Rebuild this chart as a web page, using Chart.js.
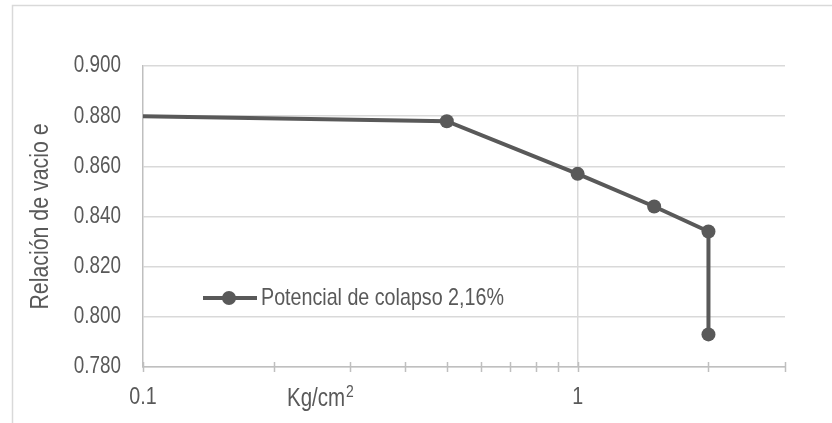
<!DOCTYPE html>
<html>
<head>
<meta charset="utf-8">
<script src="https://cdn.jsdelivr.net/npm/chart.js@4"></script>
<style>
html,body{margin:0;padding:0;background:#fff;}
#wrap{width:832px;height:423px;position:relative;}
</style>
</head>
<body>
<div id="wrap"><canvas id="c" width="832" height="423"></canvas></div>
<script>
const pressures = [0.1, 0.5, 1, 1.5, 2, 2];
const voidRatio = [0.880, 0.878, 0.857, 0.844, 0.834, 0.793];
const seriesName = 'Potencial de colapso 2,16%';
const xTickValues = [0.1, 0.2, 0.3, 0.4, 0.5, 0.6, 0.7, 0.8, 0.9, 1, 2, 3];
const xLabelValues = [0.1, 1];
const yTitle = 'Relación de vacio e';
const xTitle = 'Kg/cm';
const xTitleSup = '2';

const FONT = "'Liberation Sans', Arial, sans-serif";
const TXT = '#595959';
const LINE = '#595959';
const GRID = '#d9d9d9';
const AXIS = '#bfbfbf';

// emulate a narrow (condensed) face: real text, horizontally condensed
const canvas = document.getElementById('c');
const c2d = canvas.getContext('2d');
const NARROW = 0.82;
const origFill = c2d.fillText.bind(c2d);
const origMeasure = c2d.measureText.bind(c2d);
c2d.fillText = function (t, x, y, mw) {
  this.save();
  this.translate(x, y);
  this.scale(NARROW, 1);
  origFill(t, 0, 0);
  this.restore();
};
c2d.measureText = function (t) {
  const m = origMeasure(t);
  return {
    width: m.width * NARROW,
    actualBoundingBoxAscent: m.actualBoundingBoxAscent,
    actualBoundingBoxDescent: m.actualBoundingBoxDescent,
    actualBoundingBoxLeft: m.actualBoundingBoxLeft * NARROW,
    actualBoundingBoxRight: m.actualBoundingBoxRight * NARROW,
    fontBoundingBoxAscent: m.fontBoundingBoxAscent,
    fontBoundingBoxDescent: m.fontBoundingBoxDescent
  };
};

const framePlugin = {
  id: 'frame',
  beforeDraw(chart) {
    const ctx = chart.ctx;
    ctx.save();
    ctx.fillStyle = '#fff';
    ctx.fillRect(0, 0, chart.width, chart.height);
    ctx.strokeStyle = GRID;
    ctx.lineWidth = 1.5;
    ctx.strokeRect(12.5, 5.5, 900, 600);
    ctx.restore();
  }
};

const extrasPlugin = {
  id: 'extras',
  afterDraw(chart) {
    const ctx = chart.ctx;
    const xs = chart.scales.x;
    const ca = chart.chartArea;
    ctx.save();
    ctx.strokeStyle = AXIS;
    ctx.lineWidth = 1.5;
    xTickValues.forEach(v => {
      const px = Math.round(xs.getPixelForValue(v)) + 0.5;
      ctx.beginPath();
      ctx.moveTo(px, ca.bottom - 5);
      ctx.lineTo(px, ca.bottom + 5);
      ctx.stroke();
    });
    ctx.fillStyle = TXT;
    ctx.textBaseline = 'alphabetic';
    ctx.textAlign = 'left';
    ctx.font = "25px " + FONT;
    const tx = 287, ty = 406;
    ctx.fillText(xTitle, tx, ty);
    const w = ctx.measureText(xTitle).width;
    ctx.font = "17px " + FONT;
    ctx.fillText(xTitleSup, tx + w + 1, ty - 9);
    const ds = chart.data.datasets[0];
    const ly = 298;
    ctx.strokeStyle = ds.borderColor;
    ctx.lineWidth = ds.borderWidth;
    ctx.beginPath();
    ctx.moveTo(203, ly);
    ctx.lineTo(257, ly);
    ctx.stroke();
    ctx.fillStyle = ds.pointBackgroundColor;
    ctx.beginPath();
    ctx.arc(229, ly, 7, 0, Math.PI * 2);
    ctx.fill();
    ctx.fillStyle = TXT;
    ctx.font = "24px " + FONT;
    ctx.textBaseline = 'middle';
    ctx.fillText(ds.label, 261, ly);
    ctx.restore();
  }
};

new Chart(canvas, {
  type: 'line',
  data: {
    datasets: [{
      label: seriesName,
      data: pressures.map((p, i) => ({x: p, y: voidRatio[i]})),
      borderColor: LINE,
      backgroundColor: LINE,
      borderWidth: 4,
      pointBackgroundColor: LINE,
      pointBorderWidth: 0,
      pointRadius: ctx => ctx.dataIndex === 0 ? 0 : 7,
      tension: 0,
      clip: false
    }]
  },
  options: {
    responsive: false,
    animation: false,
    devicePixelRatio: 1,
    layout: {padding: {left: 0, right: 47, top: 66, bottom: 0}},
    plugins: {legend: {display: false}, tooltip: {enabled: false}, title: {display: false}},
    scales: {
      x: {
        type: 'logarithmic',
        min: 0.1,
        max: 3,
        afterBuildTicks: s => { s.ticks = xTickValues.map(v => ({value: v})); },
        afterFit: s => { s.height = 56; },
        ticks: {
          autoSkip: false,
          maxRotation: 0,
          color: TXT,
          font: {family: FONT, size: 24},
          padding: 16,
          callback: (v) => xLabelValues.includes(v) ? String(v) : ''
        },
        grid: {
          drawTicks: false,
          lineWidth: 1.5,
          color: c => (c.tick && c.tick.value === 1) ? GRID : 'rgba(0,0,0,0)'
        },
        border: {color: AXIS, width: 1.5}
      },
      y: {
        min: 0.78,
        max: 0.90,
        afterFit: s => { s.width = 143; },
        ticks: {
          stepSize: 0.02,
          color: TXT,
          font: {family: FONT, size: 23},
          padding: 22,
          callback: v => v.toFixed(3)
        },
        grid: {drawTicks: false, color: GRID, lineWidth: 1.5},
        border: {color: AXIS, width: 1.5},
        title: {
          display: true,
          text: yTitle,
          color: TXT,
          font: {family: FONT, size: 26},
          padding: {top: 25, bottom: 0}
        }
      }
    }
  },
  plugins: [framePlugin, extrasPlugin]
});
</script>
</body>
</html>
